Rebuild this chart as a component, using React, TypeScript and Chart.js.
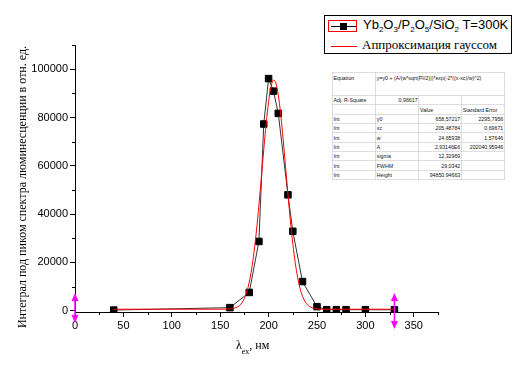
import React, { useEffect, useRef } from "react";
import { Chart, registerables } from "chart.js";

Chart.register(...registerables);

// Measured data (λex, integral)
const lambdaEx = [40, 160, 180, 190, 195, 200, 205, 210, 220, 225, 235, 250, 260, 270, 280, 300, 330];
const integral = [300, 1300, 7600, 28700, 77300, 96100, 90900, 81700, 48000, 32900, 12100, 1700, 450, 450, 450, 450, 400];

// Gaussian fit curve
const fitX = [40, 100, 140, 150, 155, 160, 165, 170, 172.5, 175, 177.5, 180, 182.5, 185, 187.5, 190, 192.5, 195, 197.5, 200, 202.5, 205, 207.5, 210, 212.5, 215, 217.5, 220, 222.5, 225, 227.5, 230, 232.5, 235, 237.5, 240, 245, 250, 255, 260, 270, 300, 330];
const fitY = [659, 659, 660, 663, 681, 764, 1091, 2165, 3303, 5116, 7871, 11851, 17334, 24505, 33373, 43741, 55113, 66713, 77545, 86566, 92760, 95433, 94258, 89373, 81358, 71106, 59685, 48114, 37281, 27777, 19933, 13805, 9268, 6067, 3921, 2547, 1218, 799, 689, 665, 659, 659, 659];

const xTicks = [0, 50, 100, 150, 200, 250, 300, 350];
const xMinorTicks = [25, 75, 125, 175, 225, 275, 325, 375];
const yTicks = [0, 20000, 40000, 60000, 80000, 100000];
const yMinorTicks = [10000, 30000, 50000, 70000, 90000, 110000];
const readerX = [0, 330];

const legendSeries = "Yb2O3/P2O5/SiO2 T=300K";
const legendFit = "Аппроксимация гауссом";
const yTitle = "Интеграл под пиком спектра люминесценции в отн. ед.";

const tableRows: string[][] = [
  ["Adj. R-Square", "0,96617", "", ""],
  ["", "", "Value", "Standard Error"],
  ["Int", "y0", "658,57217", "2295,7956"],
  ["Int", "xc", "205,48784", "0,69671"],
  ["Int", "w", "24,65938", "1,57646"],
  ["Int", "A", "2,93146E6", "202040,95946"],
  ["Int", "sigma", "12,32969", ""],
  ["Int", "FWHM", "29,0342", ""],
  ["Int", "Height", "94850,94663", ""],
];
const equation = "y=y0 + (A/(w*sqrt(PI/2)))*exp(-2*((x-xc)/w)^2)";

const extrasPlugin = {
  id: "extras",
  afterDraw(chart: any) {
    const ctx = chart.ctx;
    const xs = chart.scales.x;
    const ys = chart.scales.y;
    const area = chart.chartArea;
    ctx.save();
    // minor ticks
    ctx.strokeStyle = "#000";
    ctx.lineWidth = 1;
    ctx.beginPath();
    xMinorTicks.forEach((v) => {
      const px = Math.round(xs.getPixelForValue(v)) + 0.5;
      ctx.moveTo(px, area.bottom);
      ctx.lineTo(px, area.bottom + 3);
    });
    yMinorTicks.forEach((v) => {
      const py = Math.round(ys.getPixelForValue(v)) + 0.5;
      ctx.moveTo(area.left - 3, py);
      ctx.lineTo(area.left, py);
    });
    ctx.stroke();

    // magenta data-reader arrows
    ctx.strokeStyle = "#ff00ff";
    ctx.fillStyle = "#ff00ff";
    readerX.forEach((v, i) => {
      const px = xs.getPixelForValue(v);
      const top = area.bottom - 19;
      const bot = area.bottom + (i === 0 ? 11 : 17);
      ctx.lineWidth = 1.5;
      ctx.beginPath();
      ctx.moveTo(px, top + 6);
      ctx.lineTo(px, bot - 6);
      ctx.stroke();
      ctx.beginPath();
      ctx.moveTo(px, top);
      ctx.lineTo(px - 3.5, top + 8);
      ctx.lineTo(px + 3.5, top + 8);
      ctx.closePath();
      ctx.fill();
      ctx.beginPath();
      ctx.moveTo(px, bot);
      ctx.lineTo(px - 3.5, bot - 8);
      ctx.lineTo(px + 3.5, bot - 8);
      ctx.closePath();
      ctx.fill();
    });

    // y title
    ctx.fillStyle = "#000";
    ctx.font = "12px 'Liberation Serif', 'Times New Roman', serif";
    ctx.textAlign = "center";
    ctx.textBaseline = "middle";
    ctx.translate(23, 187);
    ctx.rotate(-Math.PI / 2);
    ctx.fillText(yTitle, 0, 0);
    ctx.restore();

    // x title λex, нм
    ctx.save();
    ctx.fillStyle = "#000";
    ctx.textBaseline = "alphabetic";
    ctx.textAlign = "left";
    ctx.font = "12px 'Liberation Serif', 'Times New Roman', serif";
    let x0 = 236;
    ctx.fillText("λ", x0, 349);
    x0 += ctx.measureText("λ").width;
    ctx.font = "8px 'Liberation Serif', 'Times New Roman', serif";
    ctx.fillText("ex", x0, 354);
    x0 += ctx.measureText("ex").width;
    ctx.font = "12px 'Liberation Serif', 'Times New Roman', serif";
    ctx.fillText(", нм", x0, 349);
    ctx.restore();
  },
};

function Sub({ t }: { t: string }) {
  // renders chemical formula with digits as subscripts
  const parts: React.ReactNode[] = [];
  let buf = "";
  let key = 0;
  const chars = t.split("");
  for (let i = 0; i < chars.length; i++) {
    const c = chars[i];
    const prev = i > 0 ? chars[i - 1] : "";
    if (/[0-9]/.test(c) && /[A-Za-z]/.test(prev) && i < t.indexOf(" ")) {
      if (buf) parts.push(<span key={key++}>{buf}</span>);
      buf = "";
      parts.push(
        <sub key={key++} style={{ fontSize: 8, verticalAlign: "-3px", lineHeight: 0 }}>
          {c}
        </sub>
      );
    } else {
      buf += c;
    }
  }
  if (buf) parts.push(<span key={key++}>{buf}</span>);
  return <>{parts}</>;
}

export default function App() {
  const ref = useRef<HTMLCanvasElement | null>(null);
  useEffect(() => {
    if (!ref.current) return;
    const chart = new Chart(ref.current, {
      type: "scatter",
      data: {
        datasets: [
          {
            label: legendSeries,
            data: lambdaEx.map((x, i) => ({ x, y: integral[i] })),
            showLine: true,
            borderColor: "#333",
            borderWidth: 1,
            backgroundColor: "#000",
            pointStyle: "rect",
            pointRadius: 4.6,
            pointBorderColor: "#000",
            pointBorderWidth: 1,
            pointBackgroundColor: "#000",
            order: 2,
          },
          {
            label: legendFit,
            data: fitX.map((x, i) => ({ x, y: fitY[i] })),
            showLine: true,
            borderColor: "#ff0000",
            borderWidth: 1,
            pointRadius: 0,
            cubicInterpolationMode: "monotone",
            order: 1,
          },
        ],
      },
      options: {
        animation: false,
        responsive: false,
        events: [],
        layout: { padding: { top: 45, right: 76, left: 0, bottom: 0 } },
        plugins: { legend: { display: false }, tooltip: { enabled: false } },
        scales: {
          x: {
            type: "linear",
            min: 0,
            max: 375,
            afterFit: (s: any) => {
              s.height = 57;
            },
            afterBuildTicks: (s: any) => {
              s.ticks = xTicks.map((v) => ({ value: v }));
            },
            grid: { drawOnChartArea: false, drawTicks: true, tickLength: 5, color: "#000", tickColor: "#000" },
            border: { display: true, color: "#000", width: 1 },
            ticks: {
              color: "#000",
              padding: 2,
              maxRotation: 0,
              autoSkip: false,
              font: { family: "'Liberation Sans', Arial, sans-serif", size: 11 },
            },
          },
          y: {
            type: "linear",
            min: -500,
            max: 110000,
            afterFit: (s: any) => {
              s.width = 75;
            },
            afterBuildTicks: (s: any) => {
              s.ticks = yTicks.map((v) => ({ value: v }));
            },
            grid: { drawOnChartArea: false, drawTicks: true, tickLength: 5, color: "#000", tickColor: "#000" },
            border: { display: true, color: "#000", width: 1 },
            ticks: {
              color: "#000",
              padding: 2,
              autoSkip: false,
              font: { family: "'Liberation Sans', Arial, sans-serif", size: 11 },
              callback: (v: any) => String(v),
            },
          },
        },
      },
      plugins: [extrasPlugin],
    } as any);
    return () => chart.destroy();
  }, []);

  const colW = [43.3, 43.3, 42.7, 43];
  const cellBase: React.CSSProperties = {
    border: "1px solid #bdbdbd",
    padding: "0 2px",
    whiteSpace: "nowrap",
    overflow: "hidden",
    height: 18.7,
    boxSizing: "border-box",
    lineHeight: "17px",
  };

  return (
    <div style={{ position: "fixed", left: 0, top: 0, width: 514, height: 369, background: "#fff", overflow: "hidden" }}>
      <canvas ref={ref} width={514} height={369} style={{ display: "block" }} />
      {/* Legend */}
      <div
        style={{
          position: "absolute",
          left: 324,
          top: 15,
          width: 188,
          height: 39,
          border: "1px solid #000",
          boxSizing: "border-box",
          background: "#fff",
        }}
      >
        <div style={{ position: "absolute", left: 3, top: 4, width: 29, height: 12, border: "1px solid #ff0000", boxSizing: "border-box" }} />
        <div style={{ position: "absolute", left: 6, top: 9.5, width: 25, height: 1, background: "#000" }} />
        <div style={{ position: "absolute", left: 15, top: 6.5, width: 7, height: 7, background: "#000" }} />
        <div
          style={{
            position: "absolute",
            left: 38,
            top: 1,
            fontFamily: "'Liberation Sans', Arial, sans-serif",
            fontSize: 13,
            lineHeight: "16px",
            whiteSpace: "nowrap",
            color: "#000",
          }}
        >
          <Sub t={legendSeries} />
        </div>
        <div style={{ position: "absolute", left: 6, top: 29.5, width: 26, height: 1, background: "#ff0000" }} />
        <div
          style={{
            position: "absolute",
            left: 37,
            top: 21,
            fontFamily: "'Liberation Serif', 'Times New Roman', serif",
            fontSize: 13,
            lineHeight: "16px",
            whiteSpace: "nowrap",
            color: "#000",
          }}
        >
          {legendFit}
        </div>
      </div>
      {/* Fit table (drawn at 2x and scaled down) */}
      <div
        style={{
          position: "absolute",
          left: 331.5,
          top: 71.5,
          transform: "scale(0.5)",
          transformOrigin: "0 0",
          background: "#fff",
        }}
      >
        <table
          style={{
            borderCollapse: "collapse",
            fontFamily: "'Liberation Sans', Arial, sans-serif",
            fontSize: 10.5,
            color: "#111",
            tableLayout: "fixed",
            width: colW.reduce((a, b) => a + b, 0) * 2,
            border: "1px solid #9a9a9a",
          }}
        >
          <colgroup>
            {colW.map((w, i) => (
              <col key={i} style={{ width: w * 2 }} />
            ))}
          </colgroup>
          <tbody>
            <tr>
              <td style={{ ...cellBase, height: 46.6, verticalAlign: "top", paddingTop: 2 }}>Equation</td>
              <td colSpan={3} style={{ ...cellBase, height: 46.6, verticalAlign: "top", paddingTop: 2 }}>
                {equation}
              </td>
            </tr>
            {tableRows.map((r, ri) => (
              <tr key={ri}>
                {r.map((c, ci) => (
                  <td
                    key={ci}
                    style={{
                      ...cellBase,
                      textAlign: ci >= 2 && ri !== 1 ? "right" : ci === 1 && ri === 0 ? "right" : "left",
                    }}
                  >
                    {c}
                  </td>
                ))}
              </tr>
            ))}
          </tbody>
        </table>
      </div>
    </div>
  );
}
